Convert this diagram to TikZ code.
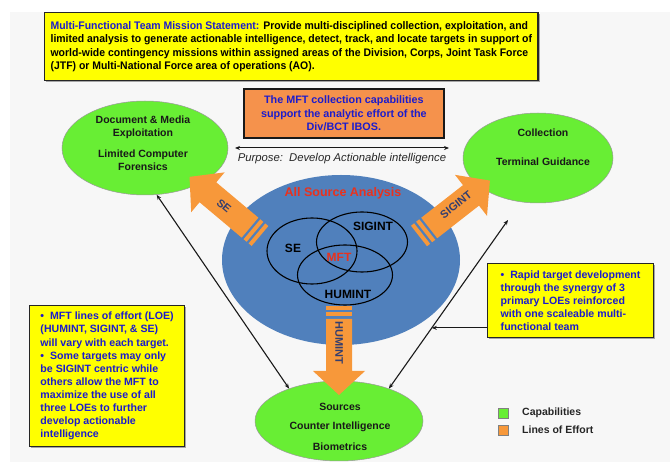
\documentclass[tikz,border=0pt]{standalone}
\usepackage{fontspec}
\setmainfont{Liberation Sans}
\newfontfamily\narrowsans[FakeStretch=0.95]{Liberation Sans}
\usetikzlibrary{arrows.meta,shapes.geometric,shadows,calc}
\definecolor{capgreen}{RGB}{104,238,52}
\definecolor{loeorange}{RGB}{247,152,58}
\definecolor{boxorange}{RGB}{245,146,76}
\definecolor{asblue}{RGB}{80,128,188}
\definecolor{txtblue}{RGB}{28,28,205}
\definecolor{txtred}{RGB}{232,50,30}
\definecolor{bggray}{RGB}{247,247,247}
\definecolor{loetext}{RGB}{52,62,110}
\definecolor{boxyellow}{RGB}{255,255,0}
\begin{document}
\begin{tikzpicture}[x=1pt,y=-1pt,
  capell/.style={ellipse, fill=capgreen, draw=black!40, line width=0.5pt, inner sep=0pt},
  captext/.style={font=\fontsize{10.5}{13}\selectfont\bfseries, align=center, inner sep=0pt, text=black!90},
  ybox/.style={rectangle, fill=boxyellow, draw=black!85, line width=1.2pt, inner sep=6pt,
    drop shadow={shadow xshift=1.5pt, shadow yshift=-1.5pt, fill=black!35, opacity=1}},
  venn/.style={ellipse, draw=black, line width=1.1pt, inner sep=0pt},
  vennlbl/.style={font=\fontsize{12}{14}\selectfont\bfseries, inner sep=0pt},
  loelbl/.style={font=\fontsize{11}{13}\selectfont\bfseries, text=loetext, inner sep=0pt},
  conn/.style={line width=1.1pt, draw=black!90, {Stealth[length=5pt,width=4pt]}-{Stealth[length=5pt,width=4pt]}},
  legsq/.style={rectangle, draw=black!50, line width=0.4pt, minimum size=10pt, inner sep=0pt},
  legtext/.style={font=\fontsize{10.5}{12}\selectfont\bfseries, text=black!85, anchor=west, inner sep=0pt},
  pics/loe/.style={code={
    \fill[loeorange] (0,-13) rectangle (4,13);
    \fill[loeorange] (6.5,-13) rectangle (10.5,13);
    \fill[loeorange] (13,-13) -- ({#1-24},-13) -- ({#1-24},-26) -- (#1,0)
       -- ({#1-24},26) -- ({#1-24},13) -- (13,13) -- cycle;
  }}
]
\useasboundingbox (0,0) rectangle (670,462);
\fill[bggray] (10,12) rectangle (670,462);

% mission statement
\node[ybox, anchor=north west, minimum width=453pt, minimum height=68pt, align=left,
  font=\narrowsans\fontsize{11}{13.5}\selectfont\bfseries] (mission) at (44,12)
  {\textcolor{txtblue}{Multi-Functional Team Mission Statement:} Provide multi-disciplined collection, exploitation, and\\
   limited analysis to generate actionable intelligence, detect, track, and locate targets in support of\\
   world-wide contingency missions within assigned areas of the Division, Corps, Joint Task Force\\
   (JTF) or Multi-National Force area of operations (AO).};

% orange box
\node[rectangle, fill=boxorange, draw=black!90, line width=1.8pt, anchor=north west,
  minimum width=200pt, minimum height=49pt, align=center, text=txtblue,
  font=\fontsize{10.8}{13.5}\selectfont\bfseries, inner sep=2pt] (mftbox) at (243,88)
  {The MFT collection capabilities\\ support the analytic effort of the\\ Div/BCT IBOS.};

% purpose arrow
\coordinate (pl) at (235,148);
\coordinate (pr) at (449,148);
\draw[line width=1pt, black!90, {Stealth[length=5pt,width=4pt]}-{Stealth[length=5pt,width=4pt]}] (pl) -- (pr);
\node[font=\fontsize{11.3}{13}\selectfont\itshape, text=black!85, inner sep=0pt] (purpose) at (342,159)
  {Purpose:\, Develop Actionable intelligence};

% capability ellipses
\node[capell, minimum width=166pt, minimum height=94pt] (lcap) at (145,148) {};
\node[captext] (lcapt1) at (143,127) {Document \& Media\\ Exploitation};
\node[captext] (lcapt2) at (143,160) {Limited Computer\\ Forensics};

\node[capell, minimum width=150pt, minimum height=90pt] (rcap) at (538,158) {};
\node[captext] (rcapt1) at (543,133) {Collection};
\node[captext] (rcapt2) at (543,162) {Terminal Guidance};

\node[capell, minimum width=168pt, minimum height=80pt] (bcap) at (339,421) {};
\node[captext] (bcapt1) at (340,407) {Sources};
\node[captext] (bcapt2) at (340,427) {Counter Intelligence};
\node[captext] (bcapt3) at (340,447) {Biometrics};

% all source analysis
\node[ellipse, fill=asblue, minimum width=238pt, minimum height=170pt, inner sep=0pt] (asa) at (341,260) {};
\node[font=\fontsize{12.5}{14}\selectfont\bfseries, text=txtred, inner sep=0pt] (asat) at (343,193) {All Source Analysis};

\node[venn, minimum width=90pt, minimum height=66pt] (vse) at (312,251) {};
\node[venn, minimum width=91pt, minimum height=60pt] (vsig) at (362,242) {};
\node[venn, minimum width=95pt, minimum height=60pt] (vhum) at (345,275) {};
\node[vennlbl] (lse) at (293,248) {SE};
\node[vennlbl] (lsig) at (373,226) {SIGINT};
\node[vennlbl, text=txtred] (lmft) at (339,257) {MFT};
\node[vennlbl] (lhum) at (348,294) {HUMINT};

% lines of effort block arrows
\pic[rotate=140] at (260,236) {loe=92};
\pic[rotate=38] at (419,236) {loe=90};
\pic[rotate=-90] at (339,306) {loe=89};
\node[loelbl, rotate=-40] (tse) at (224,206) {SE};
\node[loelbl, rotate=38] (tsig) at (456,205) {SIGINT};
\node[loelbl, rotate=-90] (thum) at (339,343) {HUMINT};

% side text boxes
\node[ybox, anchor=north west, minimum width=155pt, minimum height=141pt, align=left,
  text=txtblue, font=\fontsize{10.6}{13.1}\selectfont\bfseries, inner sep=4pt] (lbox) at (29,305)
  {\textbullet\ \ MFT lines of effort (LOE)\\ (HUMINT, SIGINT, \& SE)\\ will vary with each target.\\
   \textbullet\ \ Some targets may only\\ be SIGINT centric while\\ others allow the MFT to\\
   maximize the use of all\\ three LOEs to further\\ develop actionable\\ intelligence\hspace*{64pt}};

\node[ybox, anchor=north west, minimum width=166pt, minimum height=74pt, align=left,
  text=txtblue, font=\fontsize{10.6}{13}\selectfont\bfseries, inner sep=4pt] (rbox) at (487,263)
  {\textbullet\ \ Rapid target development\\ through the synergy of 3\\ primary LOEs reinforced\\
   with one scaleable multi-\\ functional team\hspace*{50pt}};

% connectors
\coordinate (rtip) at (508,220);
\draw[conn] (bcap.147) -- (lcap.-76);
\draw[conn] (bcap.33) -- (rtip);
\coordinate (hit) at ($(bcap.33)!0.36!(rtip)$);
\draw[line width=1.1pt, draw=black!90, -{Stealth[length=5pt,width=4pt]}] (rbox.west |- hit) -- (hit);

% legend
\node[legsq, fill=capgreen] (lg1) at (503,413) {};
\node[legsq, fill=loeorange] (lg2) at (503,430) {};
\node[legtext] (lgt1) at (522,413) {Capabilities};
\node[legtext] (lgt2) at (522,430) {Lines of Effort};
\end{tikzpicture}
\end{document}
